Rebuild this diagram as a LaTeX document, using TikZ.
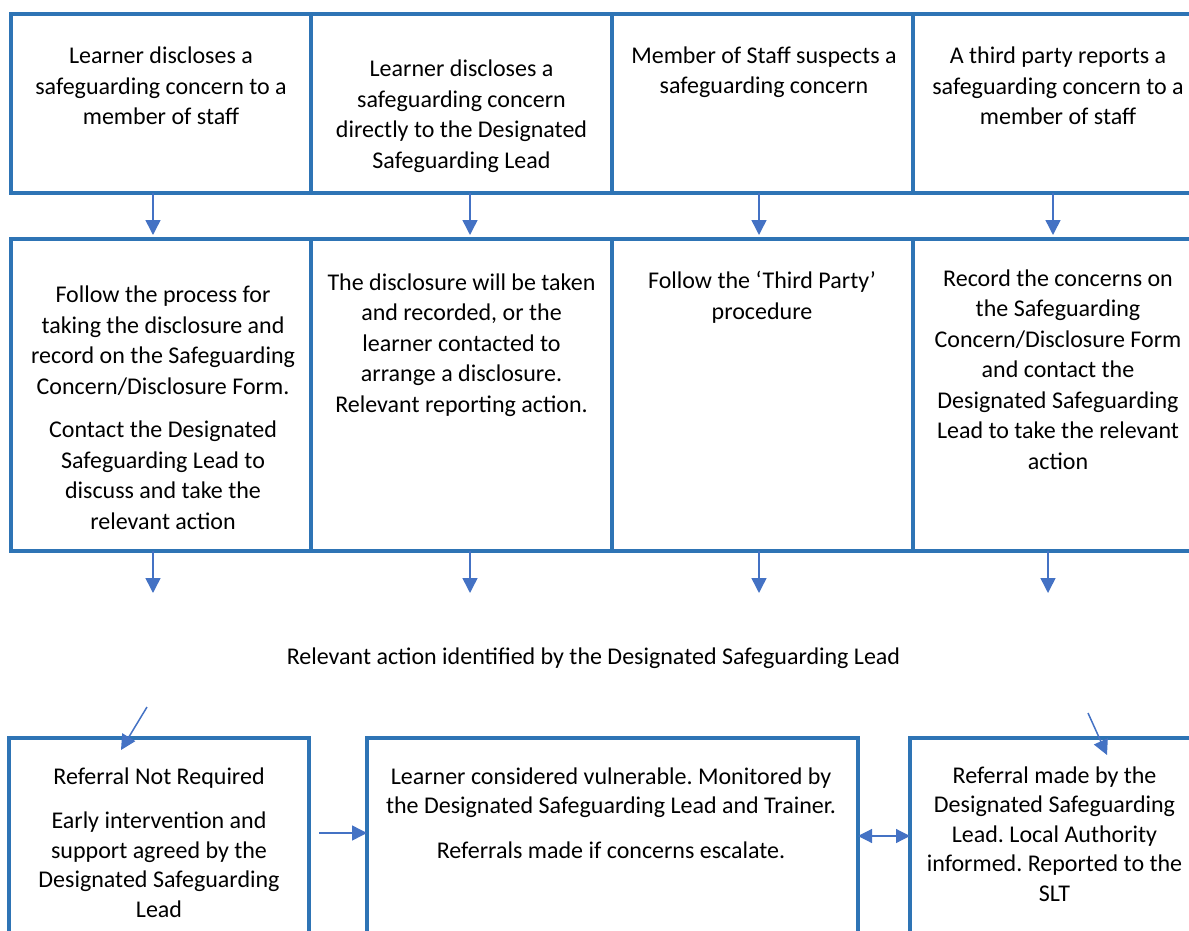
\documentclass[tikz,border=0pt]{standalone}
\usepackage{fontspec}
\setmainfont{Carlito}
\usepackage{tikz}
\usetikzlibrary{arrows.meta}
\usetikzlibrary{positioning}
\definecolor{boxblue}{RGB}{46,116,181}
\definecolor{arrowblue}{RGB}{68,114,196}
\frenchspacing
\tikzset{
    cell/.style={
           rectangle,
           draw=boxblue, line width=3.5pt,
           outer sep=0pt,
           inner sep=0pt,
           },
}
\tikzset{
    txt/.style={
           align=center,
           inner sep=0pt,
           text=black,
           font=\fontsize{24pt}{30.5pt}\selectfont,
           anchor=base,
           },
    lowtxt/.style={
           txt,
           font=\fontsize{24pt}{29.5pt}\selectfont,
           },
}
\tikzset{
    flow/.style={
           draw=arrowblue, line width=1.5pt,
           -{Triangle[width=15pt,length=15pt]},
           },
}
\begin{document}
\frenchspacing
\begin{tikzpicture}[x=1pt,y=-1pt]
\useasboundingbox (0,0) rectangle (1189,931);
\clip (0,0) rectangle (1189,931);
% reporting routes
\node[cell,minimum width=300pt,minimum height=179pt](src1) at (161,103.5){};
\node[cell,minimum width=301pt,minimum height=179pt,right=0pt of src1](src2){};
\node[cell,minimum width=301pt,minimum height=179pt,right=0pt of src2](src3){};
\node[cell,minimum width=290pt,minimum height=179pt,right=0pt of src3](src4){};
% first actions
\node[cell,minimum width=300pt,minimum height=312pt,below=46pt of src1](act1){};
\node[cell,minimum width=301pt,minimum height=312pt,right=0pt of act1](act2){};
\node[cell,minimum width=301pt,minimum height=312pt,right=0pt of act2](act3){};
\node[cell,minimum width=290pt,minimum height=312pt,right=0pt of act3](act4){};
% outcomes
\node[cell,minimum width=300pt,minimum height=262pt](refno) at (159,869){};
\node[cell,minimum width=491pt,minimum height=262pt](monitor) at (612.5,869){};
\node[cell,minimum width=293pt,minimum height=262pt](referral) at (1056.5,869){};

% texts (base = last line)
\node[txt](src1t) at (161,125){Learner discloses a\\safeguarding concern to a\\member of staff};
\node[txt](src2t) at (461.5,168){Learner discloses a\\safeguarding concern\\directly to the Designated\\Safeguarding Lead};
\node[txt](src3t) at (764,94){Member of Staff suspects a\\safeguarding concern};
\node[txt](src4t) at (1058,125){A third party reports a\\safeguarding concern to a\\member of staff};

\node[txt](act1t) at (163,529){Follow the process for\\taking the disclosure and\\record on the Safeguarding\\Concern/Disclosure Form.\\[13pt]Contact the Designated\\Safeguarding Lead to\\discuss and take the\\relevant action};
\node[txt](act2t) at (461.5,412){The disclosure will be taken\\and recorded, or the\\learner contacted to\\arrange a disclosure.\\Relevant reporting action.};
\node[txt](act3t) at (762,319){Follow the ‘Third Party’\\procedure};
\node[txt](act4t) at (1058,469){Record the concerns on\\the Safeguarding\\Concern/Disclosure Form\\and contact the\\Designated Safeguarding\\Lead to take the relevant\\action};

\node[txt](dsl) at (593.5,664){Relevant action identified by the Designated Safeguarding Lead};

\node[lowtxt](refnot) at (159,917){Referral Not Required\\[15pt]Early intervention and\\support agreed by the\\Designated Safeguarding\\Lead};
\node[lowtxt](monitort) at (611,858){Learner considered vulnerable. Monitored by\\the Designated Safeguarding Lead and Trainer.\\[15pt]Referrals made if concerns escalate.};
\node[lowtxt](referralt) at (1054.5,901){Referral made by the\\Designated Safeguarding\\Lead. Local Authority\\informed. Reported to the\\SLT};

% arrows between rows
\draw[flow,shorten >=4pt] ([xshift=-8pt]src1.south) -- ([xshift=-8pt]act1.north);
\draw[flow,shorten >=4pt] ([xshift=8.5pt]src2.south) -- ([xshift=8.5pt]act2.north);
\draw[flow,shorten >=4pt] ([xshift=-3.5pt]src3.south) -- ([xshift=-3.5pt]act3.north);
\draw[flow,shorten >=4pt] ([xshift=-5pt]src4.south) -- ([xshift=-5pt]act4.north);
\coordinate (d1) at (153,593);
\coordinate (d2) at (470,593);
\coordinate (d3) at (759,593);
\coordinate (d4) at (1048,593);
\draw[flow] (act1.south -| d1) -- (d1);
\draw[flow] (act2.south -| d2) -- (d2);
\draw[flow] (act3.south -| d3) -- (d3);
\draw[flow] (act4.south -| d4) -- (d4);
% into the outcomes
\coordinate (l0) at (147,707);
\coordinate (l1) at (121,750);
\coordinate (r0) at (1088,713);
\coordinate (r1) at (1107,755);
\draw[flow] (l0) -- (l1);
\draw[flow] (r0) -- (r1);
\draw[flow,shorten <=10pt] ([yshift=36pt]refno.east) -- ([yshift=36pt]monitor.west);
\draw[flow,line width=1.2pt,{Triangle[width=14pt,length=14pt]}-{Triangle[width=14pt,length=14pt]}] ([yshift=33pt]monitor.east) -- ([yshift=33pt]referral.west);
\end{tikzpicture}
\end{document}
